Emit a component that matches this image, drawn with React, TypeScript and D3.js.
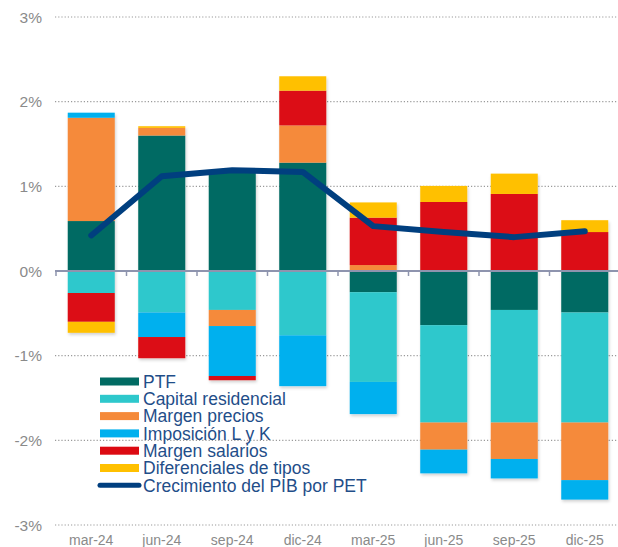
import React from "react";
import * as d3 from "d3";

const categories = ["mar-24", "jun-24", "sep-24", "dic-24", "mar-25", "jun-25", "sep-25", "dic-25"];
const seriesNames = ["PTF", "Capital residencial", "Margen precios", "Imposición L y K", "Margen salarios", "Diferenciales de tipos"];
const seriesColors = ["#016B63", "#2EC8CC", "#F58A3A", "#00B0EE", "#DC0A12", "#FFC000"];
const ptf = [0.59, 1.6, 1.17, 1.28, -0.25, -0.64, -0.46, -0.49];
const capital = [-0.26, -0.49, -0.46, -0.76, -1.06, -1.15, -1.33, -1.3];
const precios = [1.22, 0.09, -0.19, 0.44, 0.07, -0.32, -0.43, -0.68];
const imposicion = [0.06, -0.29, -0.59, -0.6, -0.38, -0.28, -0.23, -0.23];
const salarios = [-0.34, -0.25, -0.05, 0.41, 0.56, 0.815, 0.91, 0.46];
const diferenciales = [-0.13, 0.02, 0, 0.17, 0.18, 0.19, 0.24, 0.14];
const lineName = "Crecimiento del PIB por PET";
const lineColor = "#003F7F";
const pib = [0.42, 1.12, 1.19, 1.17, 0.53, 0.46, 0.4, 0.47];
const yTicks = [3, 2, 1, 0, -1, -2, -3];

const FONT = "'Liberation Sans', Arial, sans-serif";

export default function App() {
  const W = 618;
  const H = 547;
  const x = d3.scaleBand<string>().domain(categories).range([56, 620]).paddingInner(0.333).paddingOuter(0.1665);
  const y = d3.scaleLinear().domain([-3, 3]).range([525, 17]);
  const allSeries = [ptf, capital, precios, imposicion, salarios, diferenciales];
  const rows = categories.map((c, i) => {
    const r: any = { cat: c };
    seriesNames.forEach((s, k) => (r[s] = allSeries[k][i]));
    return r;
  });
  const stacked = d3.stack<any>().keys(seriesNames).offset(d3.stackOffsetDiverging)(rows);
  const line = d3
    .line<number>()
    .x((_, i) => (x(categories[i]) as number) + x.bandwidth() / 2)
    .y((d) => y(d));
  const step = x.step();
  const boundaries = d3.range(categories.length + 1).map((i) => 56 + i * step);

  const legendX = 100;
  const legendY0 = 381.5;
  const legendStep = 17.3;

  return (
    <svg width={W} height={H} style={{ position: "absolute", left: 0, top: 0, background: "#fff" }} fontFamily={FONT}>
      <defs>
        <filter id="shadow" x="-10%" y="-10%" width="130%" height="130%">
          <feDropShadow dx="1" dy="2" stdDeviation="1.5" floodColor="#000" floodOpacity="0.18" />
        </filter>
      </defs>
      {yTicks.filter((t) => t !== 0).map((t) => (
        <line key={t} x1={55} x2={618} y1={y(t)} y2={y(t)} stroke="#9a9a9a" strokeWidth={1.2} strokeDasharray="1.2 2" />
      ))}
      {yTicks.map((t) => (
        <text key={"l" + t} x={42} y={y(t)} dy="0.36em" textAnchor="end" fontSize={15.5} fill="#8a8a8a">
          {t + "%"}
        </text>
      ))}
      <g filter="url(#shadow)">
        {stacked.map((s, k) => (
          <g key={s.key} fill={seriesColors[k]}>
            {s.map((d, i) => {
              const top = y(Math.max(d[0], d[1]));
              const bot = y(Math.min(d[0], d[1]));
              if (bot - top <= 0) return null;
              return <rect key={i} x={x(categories[i])} y={top} width={x.bandwidth()} height={bot - top} />;
            })}
          </g>
        ))}
      </g>
      <line x1={55} x2={618} y1={y(0)} y2={y(0)} stroke="#8E94AE" strokeWidth={2} />
      {boundaries.map((b, i) => (
        <line key={"t" + i} x1={b} x2={b} y1={y(0)} y2={y(0) + 5} stroke="#8E94AE" strokeWidth={1.5} />
      ))}
      {categories.map((c) => (
        <text key={c} x={(x(c) as number) + x.bandwidth() / 2} y={545} textAnchor="middle" fontSize={14} fill="#8a8a8a">
          {c}
        </text>
      ))}
      <path d={line(pib) || ""} fill="none" stroke={lineColor} strokeWidth={6} strokeLinejoin="round" strokeLinecap="round" />
      {seriesNames.map((s, k) => (
        <g key={"lg" + s}>
          <rect x={legendX} y={legendY0 + k * legendStep - 4} width={39} height={8} fill={seriesColors[k]} />
          <text x={143} y={legendY0 + k * legendStep} dy="0.36em" fontSize={17.5} fill="#1F4E89">
            {s}
          </text>
        </g>
      ))}
      <line
        x1={legendX}
        x2={legendX + 39}
        y1={legendY0 + 6 * legendStep}
        y2={legendY0 + 6 * legendStep}
        stroke={lineColor}
        strokeWidth={5}
        strokeLinecap="round"
      />
      <text x={143} y={legendY0 + 6 * legendStep} dy="0.36em" fontSize={17.5} fill="#1F4E89">
        {lineName}
      </text>
    </svg>
  );
}
